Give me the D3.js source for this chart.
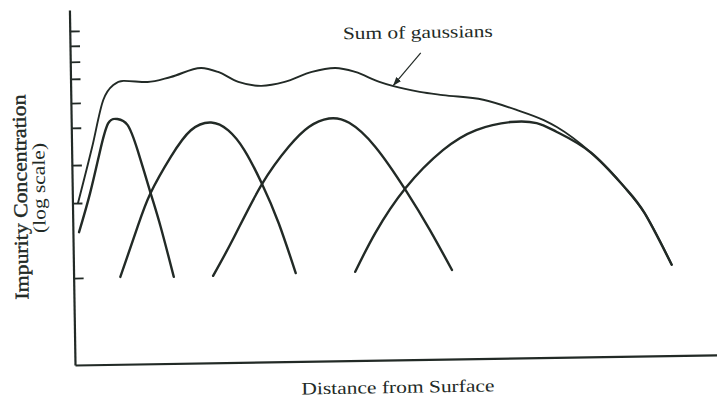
<!DOCTYPE html>
<html>
<head>
<meta charset="utf-8">
<script src="https://cdn.jsdelivr.net/npm/d3@7"></script>
<style>
  html, body { margin: 0; padding: 0; background: #fff; }
  svg { display: block; }
  text { font-family: "Liberation Serif", "Times New Roman", serif; fill: #222a26; }
</style>
</head>
<body>
<svg id="chart" width="717" height="399"></svg>
<script>
// Depth profile built from several implants: each gaussian is a parabola on a log axis.
// x = distance from surface (arbitrary units 0-100), y = log concentration (arbitrary units 0-100)
const gauss1X = [0.95, 2.76, 4.42, 5.73, 7.14, 8.69, 10.18, 12.10, 13.58, 15.48];
const gauss1Y = [37.4, 48.4, 60.4, 68.0, 69.1, 67.4, 60.3, 48.1, 38.5, 24.4];

const gauss2X = [7.22, 10.0, 12.10, 15.31, 18.48, 21.62, 24.26, 26.69, 29.26, 31.81, 34.34];
const gauss2Y = [24.6, 38.6, 48.1, 58.2, 65.6, 67.7, 65.4, 59.8, 50.5, 39.1, 24.9];

const gauss3X = [21.56, 24.92, 29.26, 33.55, 36.71, 39.85, 42.96, 46.95, 51.52, 55.16, 58.49];
const gauss3Y = [24.5, 35.4, 49.9, 60.5, 66.0, 68.3, 67.0, 60.1, 47.8, 36.5, 25.1];

const gauss4X = [43.53, 46.74, 51.52, 57.38, 62.57, 67.88, 71.93, 75.03, 80.27, 85.33, 88.38, 92.46];
const gauss4Y = [25.0, 35.9, 48.4, 58.9, 64.4, 66.5, 66.1, 63.5, 57.5, 47.7, 40.3, 25.6];

const sumX = [0.86, 3.18, 5.01, 6.60, 8.17, 11.91, 15.50, 20.20, 22.83, 25.93, 29.50, 33.09, 37.32,
              40.91, 44.02, 47.73, 49.75, 53.94, 57.51, 63.73, 68.85, 73.03, 75.04, 80.27, 85.33, 88.38, 92.46];
const sumY = [45.6, 61.3, 74.5, 78.7, 79.8, 79.4, 80.7, 83.1, 81.9, 79.0, 77.8, 78.8, 81.5,
              82.5, 81.3, 78.4, 77.2, 75.4, 74.4, 72.9, 69.9, 66.9, 64.9, 57.5, 47.7, 40.3, 25.6];

// unlabeled tick marks on the concentration axis
const yTicks = [24.5, 45.6, 56.3, 66.8, 73.8, 80.6, 85.4, 89.9, 94.1];

// callout arrow: from the label down to the sum curve
const arrowX = [54.19, 49.9];
const arrowY = [86.4, 77.4];

const xTitle = "Distance from Surface";
const yTitle = ["Impurity Concentration", "(log scale)"];
const sumLabel = "Sum of gaussians";

const ink = "#222a26";
const svg = d3.select("#chart");

const ox = 75, oy = 365;
const x = d3.scaleLinear().domain([0, 100]).range([ox, 722]);
const y = d3.scaleLinear().domain([0, 100]).range([oy, 10]);

// the printed figure sits very slightly rotated on the page
const g = svg.append("g").attr("transform", `rotate(-0.9, ${ox}, ${oy})`);

// arrow marker
svg.append("defs").append("marker")
  .attr("id", "head").attr("viewBox", "0 0 10 10")
  .attr("refX", 9).attr("refY", 5)
  .attr("markerWidth", 9).attr("markerHeight", 9)
  .attr("markerUnits", "userSpaceOnUse")
  .attr("orient", "auto")
  .append("path").attr("d", "M0,1.5 L10,5 L0,8.5 Z").attr("fill", ink);

// axes
const xAxis = d3.axisBottom(x).tickValues([]).tickSizeOuter(0);
const yAxis = d3.axisRight(y).tickValues(yTicks).tickSize(10).tickSizeOuter(0).tickFormat("");

const gx = g.append("g").attr("transform", `translate(0,${oy})`).call(xAxis);
const gy = g.append("g").attr("transform", `translate(${ox},0)`).call(yAxis);
[gx, gy].forEach(a => {
  a.select(".domain").attr("stroke", ink).attr("stroke-width", 2.2);
  a.selectAll(".tick line").attr("stroke", ink).attr("stroke-width", 1.8);
});

// each implant profile is a smooth single-valued curve
const gaussLine = d3.line()
  .x(d => x(d[0]))
  .y(d => y(d[1]))
  .curve(d3.curveNatural);

// the sum has sharp bends, so keep it free of overshoot
const sumLine = d3.line()
  .x(d => x(d[0]))
  .y(d => y(d[1]))
  .curve(d3.curveMonotoneX);

const series = [
  [gauss1X, gauss1Y],
  [gauss2X, gauss2Y],
  [gauss3X, gauss3Y],
  [gauss4X, gauss4Y]
];

g.append("g").selectAll("path")
  .data(series)
  .join("path")
  .attr("d", s => gaussLine(d3.zip(s[0], s[1])))
  .attr("fill", "none")
  .attr("stroke", ink)
  .attr("stroke-width", 2.4)
  .attr("stroke-linecap", "round");

g.append("path")
  .attr("d", sumLine(d3.zip(sumX, sumY)))
  .attr("fill", "none")
  .attr("stroke", ink)
  .attr("stroke-width", 1.9)
  .attr("stroke-linecap", "round");

// callout
g.append("line")
  .attr("x1", x(arrowX[0])).attr("y1", y(arrowY[0]))
  .attr("x2", x(arrowX[1])).attr("y2", y(arrowY[1]))
  .attr("stroke", ink).attr("stroke-width", 1.2)
  .attr("marker-end", "url(#head)");

g.append("text")
  .attr("x", 423).attr("y", 43.5)
  .attr("text-anchor", "middle")
  .attr("font-size", 17.5)
  .attr("textLength", 150).attr("lengthAdjust", "spacingAndGlyphs")
  .text(sumLabel);

// axis titles
g.append("text")
  .attr("x", 397.5).attr("y", 398)
  .attr("text-anchor", "middle")
  .attr("font-size", 17.5)
  .attr("textLength", 193).attr("lengthAdjust", "spacingAndGlyphs")
  .text(xTitle);

g.append("text")
  .attr("transform", "translate(29.6,196.2) rotate(-90)")
  .attr("text-anchor", "middle")
  .attr("font-size", 19.5)
  .attr("stroke", ink).attr("stroke-width", 0.4)
  .attr("textLength", 205).attr("lengthAdjust", "spacingAndGlyphs")
  .text(yTitle[0]);

g.append("text")
  .attr("transform", "translate(47.8,187.5) rotate(-90)")
  .attr("text-anchor", "middle")
  .attr("font-size", 18)
  .attr("textLength", 90).attr("lengthAdjust", "spacingAndGlyphs")
  .text(yTitle[1]);
</script>
</body>
</html>
